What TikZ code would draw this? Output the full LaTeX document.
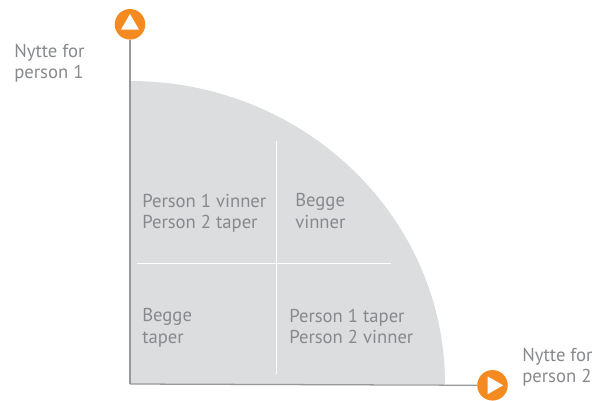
\documentclass[tikz,border=0pt]{standalone}
\usepackage{fontspec}
\setmainfont{PT Sans}
\usepackage{xcolor}
\usetikzlibrary{shapes.geometric, positioning}
\definecolor{axisgray}{HTML}{96989A}
\definecolor{areagray}{HTML}{DCDDDF}
\definecolor{textgray}{HTML}{87898C}
\definecolor{knoborange}{HTML}{F58A20}

\begin{document}
\begin{tikzpicture}[
    x=0.75pt, y=-0.75pt,
    knob/.style={circle, fill=knoborange, minimum size=22.9pt, inner sep=0pt},
    tip/.style={regular polygon, regular polygon sides=3, fill=white, minimum size=15.6pt, inner sep=0pt},
    axis/.style={draw=axisgray, line width=0.95pt},
    divider/.style={draw=white, line width=0.7pt},
    label/.style={align=left, anchor=north west, font=\fontsize{14}{16}\selectfont, text=textgray, inner sep=0pt}
]
\useasboundingbox (0,0) rectangle (606,400);

% Area
\fill[areagray] (130,81) arc[start angle=90, end angle=0, x radius=315, y radius=-303] -- (130,384) -- cycle;

% Dividers
\coordinate (vtop) at (276,141);
\coordinate (vbot) at (276,374);
\coordinate (hleft) at (137,263);
\coordinate (hright) at (391,263);
\draw[divider] (vtop) -- (vbot);
\draw[divider] (hleft) -- (hright);

% Axes
\coordinate (origin) at (130,384);
\node[knob] (up) at (130,24.3) {};
\node[knob] (right) at (492.5,385.3) {};
\draw[axis] (origin) -- (up);
\draw[axis] (origin) -- (right);
\node[tip] (uptip) at (130,24.4) {};
\node[tip, shape border rotate=-90] (righttip) at (492.7,385.3) {};

% Axis labels
\node[label] (ylabel) at (14,43.5) {Nytte for\\person 1};
\node[label] (xlabel) at (522,347.5) {Nytte for\\person 2};

% Quadrants
\node[label] (q1) at (142,193.5) {Person 1 vinner\\Person 2 taper};
\node[label] (q2) at (295,193.5) {Begge\\vinner};
\node[label] (q3) at (142,308.5) {Begge\\taper};
\node[label] (q4) at (289,308.5) {Person 1 taper\\Person 2 vinner};

\end{tikzpicture}
\end{document}
